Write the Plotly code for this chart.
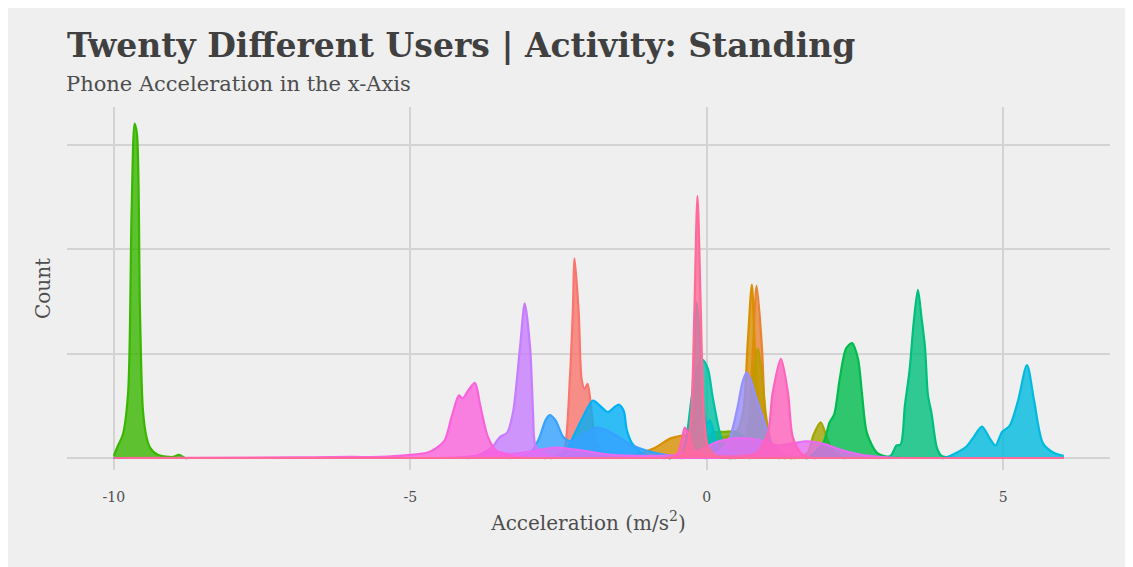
import plotly.graph_objects as go

# x-acceleration density per user (standing)
users = ['U01', 'U02', 'U03', 'U04', 'U05', 'U06', 'U07', 'U08', 'U09', 'U10',
         'U11', 'U12', 'U13', 'U14', 'U15', 'U16', 'U17', 'U18', 'U19', 'U20']
colors = ['#F8766D', '#EA8331', '#D89000', '#C09B00', '#A3A500', '#7CAE00', '#39B600',
          '#00BB4E', '#00BF7D', '#00C1A3', '#00BFC4', '#00BAE0', '#00B0F6', '#35A2FF',
          '#9590FF', '#C77CFF', '#E76BF3', '#FA62DB', '#FF62BC', '#FF6A98']

u01_x = [-10, -2.75, -2.7, -2.45, -2.39, -2.31, -2.26, -2.23, -2.16, -2.11, -2.06, -2.01, -1.94, -1.86, -1.7, -1.45, -1.4, 6.02]
u01_y = [0, 0, 0, 0.04, 0.11, 0.75, 1.39, 1.91, 1.39, 0.75, 0.66, 0.71, 0.43, 0.14, 0.03, 0, 0, 0]
u02_x = [-10, 0.45, 0.5, 0.66, 0.72, 0.78, 0.84, 0.93, 0.98, 1.03, 1.15, 1.4, 1.45, 6.02]
u02_y = [0, 0, 0, 0.05, 0.36, 1.06, 1.65, 1.06, 0.43, 0.17, 0.04, 0, 0, 0]
u03_x = [-10, -1.65, -1.6, -1.2, -0.9, -0.6, -0.3, 0.0, 0.3, 0.5, 0.61, 0.69, 0.76, 0.81, 0.89, 1.0, 1.15, 1.4, 1.45, 6.02]
u03_y = [0, 0, 0, 0.03, 0.09, 0.19, 0.22, 0.2, 0.2, 0.25, 0.43, 1.1, 1.66, 1.06, 0.43, 0.17, 0.05, 0, 0, 0]
u04_x = [-10, 0.35, 0.4, 0.6, 0.72, 0.8, 0.86, 0.92, 1.0, 1.1, 1.3, 1.35, 6.02]
u04_y = [0, 0, 0, 0.08, 0.4, 0.85, 1.05, 0.85, 0.4, 0.12, 0, 0, 0]
u05_x = [-10, 1.45, 1.5, 1.7, 1.8, 1.92, 2.04, 2.15, 2.3, 2.35, 6.02]
u05_y = [0, 0, 0, 0.05, 0.22, 0.34, 0.17, 0.05, 0, 0, 0]
u06_x = [-10, -0.45, -0.4, -0.1, 0.1, 0.3, 0.5, 0.7, 0.9, 1.2, 1.25, 6.02]
u06_y = [0, 0, 0, 0.1, 0.24, 0.25, 0.25, 0.15, 0.05, 0, 0, 0]
u07_x = [-10.0, -9.93, -9.85, -9.76, -9.70, -9.65, -9.61, -9.56, -9.51, -9.45, -9.39, -9.26, -9.0, -8.9, -8.8, -8.75, 6.02]
u07_y = [0.02, 0.12, 0.22, 0.62, 2.37, 3.20, 3.10, 1.42, 0.46, 0.2, 0.10, 0.03, 0.01, 0.03, 0, 0, 0]
u08_x = [-10, 1.65, 1.7, 1.96, 2.07, 2.15, 2.24, 2.35, 2.45, 2.55, 2.62, 2.70, 2.87, 3.05, 3.3, 3.35, 6.02]
u08_y = [0, 0, 0, 0.14, 0.34, 0.42, 0.75, 1.05, 1.10, 0.95, 0.6, 0.24, 0.05, 0.01, 0, 0, 0]
u09_x = [-10, 2.85, 2.9, 3.1, 3.2, 3.27, 3.34, 3.42, 3.49, 3.56, 3.62, 3.68, 3.73, 3.79, 3.88, 3.96, 4.2, 4.25, 6.02]
u09_y = [0, 0, 0, 0.02, 0.12, 0.13, 0.5, 0.84, 1.3, 1.61, 1.35, 1.06, 0.6, 0.43, 0.1, 0.02, 0, 0, 0]
u10_x = [-10, -0.65, -0.6, -0.42, -0.35, -0.25, -0.15, -0.07, 0.02, 0.10, 0.22, 0.30, 0.45, 0.7, 0.75, 6.02]
u10_y = [0, 0, 0, 0.03, 0.17, 0.6, 0.88, 0.94, 0.85, 0.58, 0.24, 0.11, 0.04, 0, 0, 0]
u11_x = [-10, -0.65, -0.6, -0.4, -0.3, -0.22, -0.17, -0.12, -0.05, 0.0, 0.05, 0.12, 0.2, 0.4, 0.45, 6.02]
u11_y = [0, 0, 0, 0.03, 0.2, 0.9, 1.49, 1.2, 0.45, 0.33, 0.36, 0.25, 0.08, 0, 0, 0]
u12_x = [-10, 3.95, 4.0, 4.1, 4.38, 4.5, 4.64, 4.78, 4.87, 4.98, 5.11, 5.25, 5.40, 5.52, 5.67, 5.85, 6.02]
u12_y = [0, 0, 0, 0.02, 0.11, 0.2, 0.30, 0.18, 0.12, 0.25, 0.31, 0.55, 0.89, 0.55, 0.14, 0.05, 0.02]
u13_x = [-10, -2.65, -2.6, -2.4, -2.28, -2.1, -1.92, -1.8, -1.67, -1.55, -1.48, -1.40, -1.35, -1.26, -1.1, -0.9, -0.7, -0.65, 6.02]
u13_y = [0, 0, 0, 0.05, 0.17, 0.38, 0.55, 0.5, 0.44, 0.49, 0.51, 0.45, 0.27, 0.14, 0.05, 0.01, 0, 0, 0]
u14_x = [-10, -3.35, -3.3, -3.05, -2.93, -2.82, -2.72, -2.65, -2.55, -2.42, -2.3, -2.1, -1.85, -1.6, -1.25, -0.8, -0.4, 0.0, 0.05, 6.02]
u14_y = [0, 0, 0, 0.03, 0.08, 0.2, 0.36, 0.41, 0.36, 0.2, 0.16, 0.22, 0.29, 0.24, 0.12, 0.04, 0.01, 0, 0, 0]
u15_x = [-10, -0.05, 0.0, 0.25, 0.39, 0.52, 0.60, 0.67, 0.74, 0.81, 0.98, 1.1, 1.3, 1.6, 1.65, 6.02]
u15_y = [0, 0, 0, 0.08, 0.2, 0.49, 0.72, 0.82, 0.75, 0.62, 0.33, 0.14, 0.04, 0, 0, 0]
u16_x = [-10, -4.05, -4.0, -3.8, -3.61, -3.49, -3.37, -3.27, -3.15, -3.07, -2.98, -2.93, -2.90, -2.82, -2.65, -2.4, -2.35, 6.02]
u16_y = [0, 0, 0, 0.04, 0.11, 0.20, 0.24, 0.43, 1.06, 1.48, 1.06, 0.43, 0.14, 0.06, 0.02, 0, 0, 0]
u17_x = [-10, -4.55, -4.5, -3.9, -3.6, -3.3, -3.0, -2.55, -2.1, -1.6, -1.0, -0.5, -0.1, 0.2, 0.56,
         0.9, 1.2, 1.45, 1.69, 2.0, 2.3, 2.6, 2.9, 3.3, 3.35, 6.02]
u17_y = [0, 0, 0, 0.02, 0.06, 0.04, 0.06, 0.10, 0.07, 0.03, 0.02, 0.03, 0.08, 0.16, 0.19,
         0.17, 0.12, 0.14, 0.16, 0.13, 0.07, 0.03, 0.01, 0, 0, 0]
u18_x = [-10, -7.0, -6.0, -5.5, -5.0, -4.72, -4.55, -4.42, -4.3, -4.18, -4.12, -4.02, -3.91, -3.82, -3.69, -3.55, -3.3, -3.0, -2.95, 6.02]
u18_y = [0, 0.005, 0.01, 0.01, 0.03, 0.05, 0.1, 0.17, 0.4, 0.60, 0.57, 0.65, 0.72, 0.5, 0.2, 0.07, 0.02, 0, 0, 0]
u19_x = [-10, -0.75, -0.7, -0.5, -0.42, -0.37, -0.3, -0.2, 0.1, 0.6, 0.85, 1.03, 1.11, 1.25, 1.37, 1.45, 1.6, 1.8, 1.85, 6.02]
u19_y = [0, 0, 0, 0.04, 0.18, 0.29, 0.22, 0.06, 0.02, 0.02, 0.05, 0.24, 0.62, 0.95, 0.62, 0.2, 0.04, 0, 0, 0]
u20_x = [-10, -0.65, -0.6, -0.4, -0.32, -0.26, -0.21, -0.157, -0.10, -0.05, 0.02, 0.15, 0.4, 0.45, 6.02]
u20_y = [0, 0, 0, 0.03, 0.14, 0.43, 1.39, 2.51, 1.39, 0.43, 0.11, 0.02, 0, 0, 0]

xs = [u01_x, u02_x, u03_x, u04_x, u05_x, u06_x, u07_x, u08_x, u09_x, u10_x,
      u11_x, u12_x, u13_x, u14_x, u15_x, u16_x, u17_x, u18_x, u19_x, u20_x]
ys = [u01_y, u02_y, u03_y, u04_y, u05_y, u06_y, u07_y, u08_y, u09_y, u10_y,
      u11_y, u12_y, u13_y, u14_y, u15_y, u16_y, u17_y, u18_y, u19_y, u20_y]

x_ticks = [-10, -5, 0, 5]

serif = 'DejaVu Serif'


def hex_rgba(h, a):
    h = h.lstrip('#')
    return 'rgba(%d,%d,%d,%.2f)' % (int(h[0:2], 16), int(h[2:4], 16), int(h[4:6], 16), a)


fig = go.Figure()
for name, col, x, y in zip(users, colors, xs, ys):
    fig.add_trace(go.Scatter(x=x, y=y, name=name, mode='lines', fill='tozeroy',
                             line=dict(color=col, width=2.2, shape='spline', smoothing=0.8),
                             fillcolor=hex_rgba(col, 0.8), showlegend=False))

# page body adds an 8px offset, so the figure is 8px smaller than the window
fig.update_layout(
    width=1125, height=559,
    margin=dict(l=59, r=23, t=99, b=97),
    paper_bgcolor='#EFEFEF',
    plot_bgcolor='#EFEFEF',
    font=dict(family=serif, color='#4D4D4D'),
    showlegend=False,
    title=dict(text='<b>Twenty Different Users | Activity: Standing</b>',
               font=dict(family=serif, size=33, color='#404040'),
               xref='container', x=59 / 1125, xanchor='left',
               yref='container', y=1 - 37 / 559, yanchor='middle'),
    annotations=[dict(text='Phone Acceleration in the x-Axis', xref='paper', yref='paper',
                      x=-0.003, y=1.063, xanchor='left', yanchor='middle', showarrow=False,
                      font=dict(family=serif, size=21, color='#4D4D4D'))],
)
fig.update_xaxes(range=[-10.79, 6.80], tickvals=x_ticks, ticktext=[str(t) for t in x_ticks],
                 showgrid=True, gridcolor='#D3D3D3', gridwidth=2, zeroline=False,
                 showline=False, ticks='', ticklabelstandoff=17,
                 tickfont=dict(size=14, color='#4D4D4D'),
                 title=dict(text='Acceleration (m/s<sup>2</sup>)', font=dict(size=20, color='#4D4D4D'),
                            standoff=11))
fig.update_yaxes(range=[-0.115, 3.36], dtick=1, showticklabels=False,
                 showgrid=True, gridcolor='#D3D3D3', gridwidth=2, zeroline=False,
                 showline=False, ticks='',
                 title=dict(text='Count', font=dict(size=20, color='#4D4D4D'), standoff=10))

fig.write_html("out.html")
